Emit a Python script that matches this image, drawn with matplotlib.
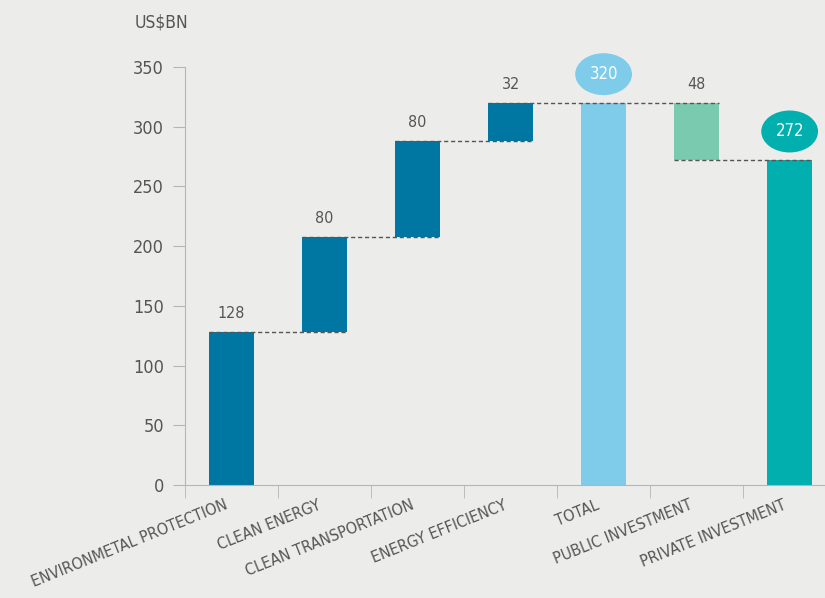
import numpy as np
import matplotlib
matplotlib.use("Agg")
import matplotlib.pyplot as plt
from matplotlib import font_manager as fm

# the original uses a condensed face; pick one if installed
condensed = [f for f in fm.fontManager.ttflist
             if ("Condensed" in f.fname or "Narrow" in f.fname)
             and "Bold" not in f.fname and "Oblique" not in f.fname
             and "Italic" not in f.fname]
condensed.sort(key=lambda f: ("DejaVu" not in f.fname, f.fname))
if condensed:
    FONT = fm.FontProperties(fname=condensed[0].fname)
    HAVE_CONDENSED = True
else:
    FONT = fm.FontProperties(family="DejaVu Sans")
    HAVE_CONDENSED = False

CATEGORIES = [
    "ENVIRONMETAL PROTECTION",
    "CLEAN ENERGY",
    "CLEAN TRANSPORTATION",
    "ENERGY EFFICIENCY",
    "TOTAL",
    "PUBLIC INVESTMENT",
    "PRIVATE INVESTMENT",
]
BAR_BOTTOMS = [0, 128, 208, 288, 0, 272, 0]
BAR_HEIGHTS = [128, 80, 80, 32, 320, 48, 272]
VALUE_LABELS = ["128", "80", "80", "32", "320", "48", "272"]
HIGHLIGHT = [False, False, False, False, True, False, True]
# connector dashed lines: (level, from bar, to bar)
CONNECTORS = [(128, 0, 1), (208, 1, 2), (288, 2, 3), (320, 3, 5), (272, 5, 6)]

BG = "#ECEDEB"
DARK = "#0077A3"
COLORS = [DARK, DARK, DARK, DARK, "#7ECCEA", "#7ACAAF", "#00AFAE"]
TEXT = "#555555"
AXIS = "#B5B5B5"

W = 0.48
XLAB_SIZE = 11.5 if HAVE_CONDENSED else 10.5


def fp(size):
    p = FONT.copy()
    p.set_size(size)
    return p


fig = plt.figure(figsize=(8.25, 5.98), dpi=100, facecolor=BG)
ax = fig.add_axes([185 / 825, 113 / 598, 640 / 825, 418 / 598], facecolor=BG)

x = np.arange(len(CATEGORIES))
ax.bar(x, BAR_HEIGHTS, bottom=BAR_BOTTOMS, width=W, color=COLORS, zorder=2)

for level, a, b in CONNECTORS:
    ax.plot([x[a] - W / 2, x[b] + W / 2], [level, level], ls=(0, (3, 2)),
            color="#555555", lw=1.0, zorder=3)

for i in x:
    top = BAR_BOTTOMS[i] + BAR_HEIGHTS[i]
    if HIGHLIGHT[i]:
        ax.text(i, top + 24, VALUE_LABELS[i], ha="center", va="center",
                fontproperties=fp(12), color="white", zorder=4,
                bbox=dict(boxstyle="ellipse,pad=0.35", fc=COLORS[i], ec="none"))
    else:
        ax.text(i, top + 9, VALUE_LABELS[i], ha="center", va="bottom",
                fontproperties=fp(11.5), color=TEXT)

ax.set_xlim(-0.5, 6.38)
ax.set_ylim(0, 350)

ax.set_yticks(np.arange(0, 351, 50))
ax.tick_params(axis="y", length=9, color=AXIS, labelcolor=TEXT, pad=6)
for lab in ax.get_yticklabels():
    lab.set_fontproperties(fp(13))

# label anchors sit a little left of the bar centres, as in the original
ax.set_xticks(x - 0.08)
ax.set_xticklabels(CATEGORIES, rotation=22, ha="right", rotation_mode="anchor",
                   color=TEXT)
for lab in ax.get_xticklabels():
    lab.set_fontproperties(fp(XLAB_SIZE))
ax.tick_params(axis="x", which="major", length=0, pad=9)
ax.set_xticks(np.arange(-0.5, 6, 1), minor=True)
ax.tick_params(axis="x", which="minor", length=9, color=AXIS)

for s in ["top", "right"]:
    ax.spines[s].set_visible(False)
ax.spines["left"].set_color(AXIS)
ax.spines["bottom"].set_color(AXIS)

fig.text(161 / 825, 1 - 22 / 598, "US$BN", ha="center", va="center",
         fontproperties=fp(12.5), color=TEXT)

fig.savefig("out.png", dpi=100, facecolor=BG)
